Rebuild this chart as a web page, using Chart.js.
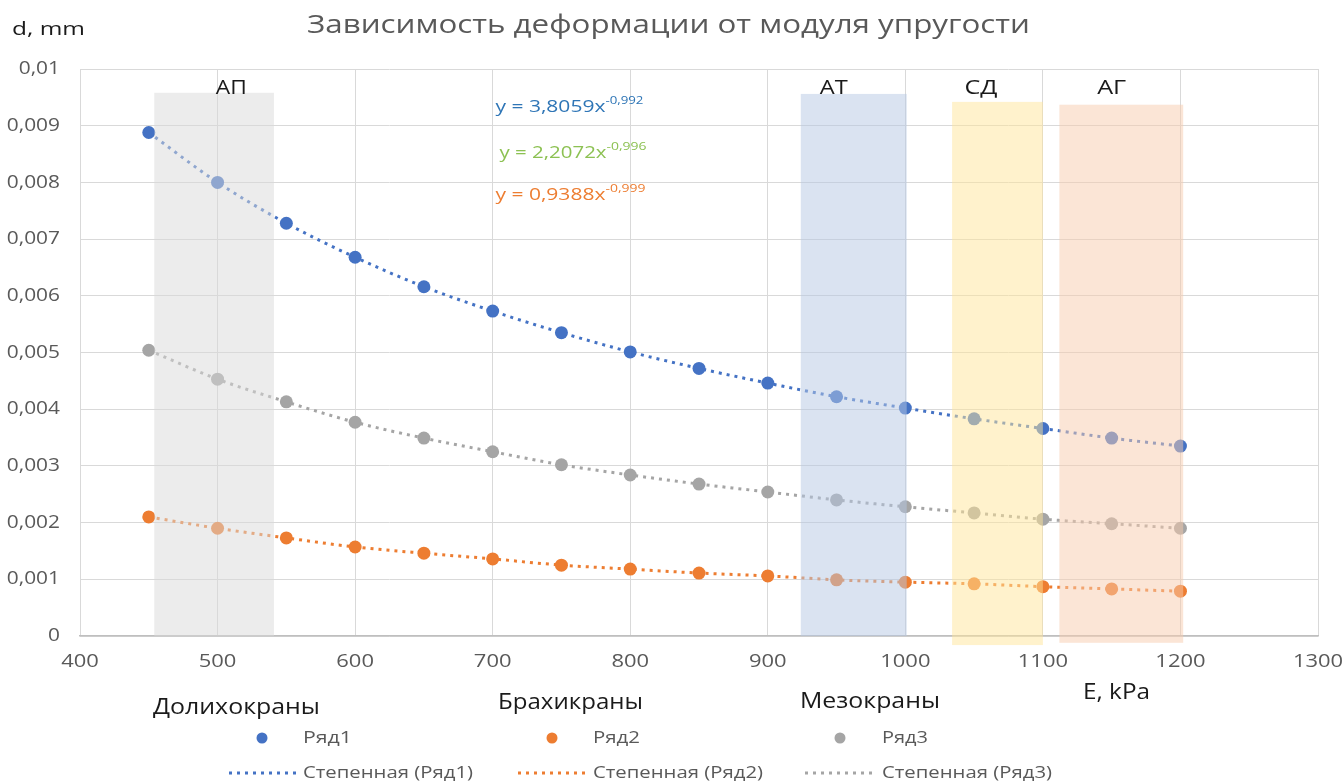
<!DOCTYPE html>
<html>
<head>
<meta charset="utf-8">
<script src="https://cdn.jsdelivr.net/npm/chart.js@4.4.1/dist/chart.umd.min.js"></script>
<style>
    html, body { margin: 0; padding: 0; background: #ffffff; }
    #wrap { position: relative; width: 1344px; height: 782px; }
</style>
</head>
<body>
<div id="wrap"><canvas id="deformChart"></canvas></div>
<script>
// Modulus of elasticity, kPa
const eValues = [450, 500, 550, 600, 650, 700, 750, 800, 850, 900, 950, 1000, 1050, 1100, 1150, 1200];

// Deformation, mm
const row1 = [0.00888, 0.00800, 0.00728, 0.00668, 0.00616, 0.00573, 0.00535, 0.00501,
              0.00472, 0.00446, 0.00422, 0.00402, 0.00383, 0.00366, 0.00349, 0.00335];
const row2 = [0.00210, 0.00190, 0.00173, 0.00157, 0.00146, 0.00136, 0.00125, 0.00118,
              0.00111, 0.00106, 0.00099, 0.00095, 0.00092, 0.00087, 0.00083, 0.00079];
const row3 = [0.00504, 0.00453, 0.00413, 0.00377, 0.00349, 0.00325, 0.00302, 0.00284,
              0.00268, 0.00254, 0.00240, 0.00228, 0.00217, 0.00206, 0.00198, 0.00190];

const seriesNames = ['Ряд1', 'Ряд2', 'Ряд3'];
const trendNames = ['Степенная (Ряд1)', 'Степенная (Ряд2)', 'Степенная (Ряд3)'];
const equations = ['y = 3,8059x', 'y = 2,2072x', 'y = 0,9388x'];
const exponents = ['-0,992', '-0,996', '-0,999'];
const groupNames = ['Долихокраны', 'Брахикраны', 'Мезокраны'];

// Shaded ranges (E from / to, d top / bottom)
const bandNames = ['АП', 'АТ', 'СД', 'АГ'];
const bandFrom = [454, 924, 1034, 1112];
const bandTo = [541, 1001, 1100, 1202];
const bandTop = [0.00958, 0.00956, 0.00942, 0.00937];
const bandBottom = [0, 0, -0.00016, -0.00012];

const seriesColors = ['#4472c4', '#ed7d31', '#a5a5a5'];
const equationColors = ['#2e75b6', '#8cc152', '#ed7d31'];
const bandColors = ['rgba(217,217,217,0.5)', 'rgba(181,199,227,0.5)',
                    'rgba(255,229,153,0.5)', 'rgba(247,203,173,0.5)'];

const FONT = '"Open Sans", sans-serif';
Chart.defaults.font.family = FONT;

function toPoints(values) {
    return eValues.map((e, i) => ({ x: e, y: values[i] }));
}

// Text helper: horizontal stretch either to a target width or by a factor
function drawText(ctx, str, x, y, size, color, width, align, factor) {
    ctx.save();
    ctx.font = `${size}px ${FONT}`;
    ctx.fillStyle = color;
    ctx.textBaseline = 'middle';
    ctx.textAlign = 'left';
    const w = ctx.measureText(str).width;
    const sx = width ? width / w : (factor || 1);
    let left = x;
    if (align === 'center') left = x - (w * sx) / 2;
    if (align === 'right') left = x - w * sx;
    ctx.translate(left, y);
    ctx.scale(sx, 1);
    ctx.fillText(str, 0, 0);
    ctx.restore();
    return left + w * sx;
}

const fmtY = v => v === 0 ? '0' : String(+v.toFixed(3)).replace('.', ',');

const allRows = [row1, row2, row3];

const pointSets = allRows.map((r, i) => ({
    label: seriesNames[i],
    data: toPoints(r),
    showLine: false,
    pointRadius: 6.5,
    pointHoverRadius: 6.5,
    pointBackgroundColor: seriesColors[i],
    pointBorderWidth: 0,
    borderColor: seriesColors[i]
}));

const trendSets = allRows.map((r, i) => ({
    label: trendNames[i],
    data: toPoints(r),
    showLine: true,
    pointRadius: 0,
    borderColor: seriesColors[i],
    borderWidth: 3,
    borderDash: [3, 5],
    cubicInterpolationMode: 'monotone',
    fill: false
}));

const extrasPlugin = {
    id: 'extras',
    afterDatasetsDraw(chart) {
        const { ctx, scales: { x, y } } = chart;
        ctx.save();
        bandNames.forEach((name, i) => {
            const x1 = x.getPixelForValue(bandFrom[i]);
            const x2 = x.getPixelForValue(bandTo[i]);
            const y1 = y.getPixelForValue(bandTop[i]);
            const y2 = y.getPixelForValue(bandBottom[i]);
            ctx.fillStyle = bandColors[i];
            ctx.fillRect(x1, y1, x2 - x1, y2 - y1);
        });
        ctx.restore();
    },
    afterDraw(chart) {
        const { ctx, scales: { x, y } } = chart;

        // Tick labels, placed by the scales
        x.ticks.forEach(t => {
            drawText(ctx, String(t.value), x.getPixelForValue(t.value), 662, 18, '#595959', 0, 'center', 1.22);
        });
        y.ticks.forEach(t => {
            drawText(ctx, fmtY(t.value), 60, y.getPixelForValue(t.value), 18, '#595959', 0, 'right', 1.16);
        });

        // Title and axis names
        drawText(ctx, 'Зависимость деформации от модуля упругости', 307, 26, 25, '#595959', 723);
        drawText(ctx, 'd, mm', 12, 30, 19, '#1a1a1a', 73);
        drawText(ctx, 'E, kPa', 1083, 693, 21, '#1a1a1a', 67);

        // Band captions
        const bandLabelE = [510, 948, 1055, 1150];
        const bandLabelW = [31, 28, 33, 29];
        bandNames.forEach((name, i) => {
            drawText(ctx, name, x.getPixelForValue(bandLabelE[i]), y.getPixelForValue(0.0097) + 2,
                     20, '#1a1a1a', bandLabelW[i], 'center');
        });

        // Trend line equations
        const eqX = [702, 705, 702];
        const eqY = [0.00933, 0.00852, 0.00778];
        const eqW = [110, 107, 110];
        const supW = [38, 40, 40];
        equations.forEach((eq, i) => {
            const px = x.getPixelForValue(eqX[i]);
            const py = y.getPixelForValue(eqY[i]);
            const end = drawText(ctx, eq, px, py, 17, equationColors[i], eqW[i]);
            drawText(ctx, exponents[i], end, py - 6, 11, equationColors[i], supW[i]);
        });

        // Group captions under the axis
        const groupX = [153, 498, 800];
        const groupY = [708, 703, 702];
        const groupW = [167, 145, 140];
        groupNames.forEach((g, i) => {
            drawText(ctx, g, groupX[i], groupY[i], 21, '#1a1a1a', groupW[i]);
        });

        // Legend
        const dotX = [262, 552, 840];
        const textX = [303, 593, 882];
        const lineX = [229, 518, 805];
        const nameW = [49, 47, 46];
        seriesNames.forEach((name, i) => {
            ctx.save();
            ctx.fillStyle = seriesColors[i];
            ctx.beginPath();
            ctx.arc(dotX[i], 738, 5.5, 0, Math.PI * 2);
            ctx.fill();
            ctx.strokeStyle = seriesColors[i];
            ctx.lineWidth = 3;
            ctx.setLineDash([3, 5]);
            ctx.beginPath();
            ctx.moveTo(lineX[i], 773);
            ctx.lineTo(lineX[i] + 68, 773);
            ctx.stroke();
            ctx.restore();
            drawText(ctx, name, textX[i], 738, 16, '#595959', nameW[i]);
            drawText(ctx, trendNames[i], textX[i], 773, 16, '#595959', 170);
        });
    }
};

const ctxChart = document.getElementById('deformChart').getContext('2d');
new Chart(ctxChart, {
    type: 'line',
    data: { datasets: [...pointSets, ...trendSets] },
    options: {
        responsive: true,
        maintainAspectRatio: false,
        animation: false,
        layout: { padding: { top: 69, right: 26, left: 0, bottom: 0 } },
        plugins: {
            legend: { display: false },
            tooltip: { enabled: false },
            title: { display: false }
        },
        scales: {
            x: {
                type: 'linear',
                min: 400,
                max: 1300,
                ticks: { stepSize: 100, display: false },
                grid: { color: '#d9d9d9', drawTicks: false },
                border: { color: '#bfbfbf', width: 1.5 },
                afterFit(scale) { scale.height = 146; }
            },
            y: {
                min: 0,
                max: 0.01,
                ticks: { stepSize: 0.001, display: false },
                grid: { color: '#d9d9d9', drawTicks: false },
                border: { display: false },
                afterFit(scale) { scale.width = 80; }
            }
        }
    },
    plugins: [extrasPlugin]
});
</script>
</body>
</html>
